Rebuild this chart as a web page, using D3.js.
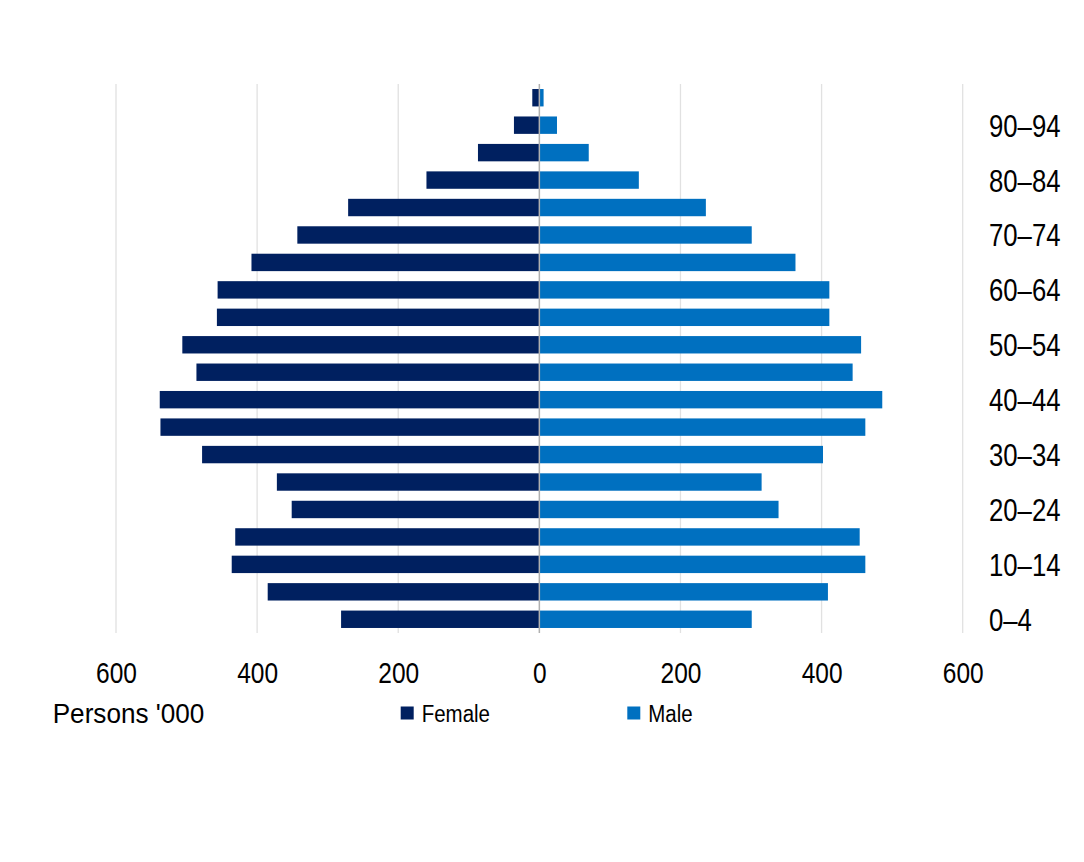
<!DOCTYPE html>
<html>
<head>
<meta charset="utf-8">
<script src="https://cdn.jsdelivr.net/npm/d3@7"></script>
<style>
  html, body { margin: 0; padding: 0; background: #fff; }
  svg { display: block; }
  text { font-family: "Liberation Sans", Arial, sans-serif; fill: #000; }
</style>
</head>
<body>
<svg id="chart" width="1084" height="862"></svg>
<script>
// Age groups, bottom (youngest) to top (oldest)
const categories = ["0–4","5–9","10–14","15–19","20–24","25–29","30–34","35–39","40–44","45–49",
                    "50–54","55–59","60–64","65–69","70–74","75–79","80–84","85–89","90–94","95+"];
// Persons '000
const female = [281, 385, 436, 431, 351, 372, 478, 537, 538, 486, 506, 457, 456, 408, 343, 271, 160, 87, 36, 10];
const male   = [301, 409, 462, 454, 339, 315, 402, 462, 486, 444, 456, 411, 411, 363, 301, 236, 141, 70, 25, 6];
const yTickLabels = ["0–4","10–14","20–24","30–34","40–44","50–54","60–64","70–74","80–84","90–94"];
const xTickValues = [-600, -400, -200, 0, 200, 400, 600];
const gridValues = [-600, -400, -200, 200, 400, 600];
const seriesNames = ["Female", "Male"];
const axisTitle = "Persons '000";

const colors = { Female: "#002060", Male: "#0070C0" };

const svg = d3.select("#chart");
const plotTop = 84, plotBottom = 633;

const x = d3.scaleLinear().domain([-600, 600]).range([116, 962.7]);
const y = d3.scaleBand()
  .domain(categories.slice().reverse())
  .range([plotTop, plotBottom])
  .paddingInner(0.366)
  .paddingOuter(0.183);

// gridlines
svg.append("g").selectAll("line").data(gridValues).join("line")
  .attr("x1", d => x(d)).attr("x2", d => x(d))
  .attr("y1", plotTop).attr("y2", plotBottom)
  .attr("stroke", "#e1e1e1").attr("stroke-width", 1.3);

// bars
const rows = categories.map((c, i) => ({ c, f: female[i], m: male[i] }));
svg.append("g").selectAll("rect").data(rows).join("rect")
  .attr("x", d => x(-d.f)).attr("width", d => x(0) - x(-d.f))
  .attr("y", d => y(d.c)).attr("height", y.bandwidth())
  .attr("fill", colors.Female);
svg.append("g").selectAll("rect").data(rows).join("rect")
  .attr("x", x(0)).attr("width", d => x(d.m) - x(0))
  .attr("y", d => y(d.c)).attr("height", y.bandwidth())
  .attr("fill", colors.Male);

// zero line
svg.append("line")
  .attr("x1", x(0)).attr("x2", x(0)).attr("y1", plotTop).attr("y2", plotBottom)
  .attr("stroke", "#b0b0b0").attr("stroke-width", 1.5);

// x axis labels
const xAxis = svg.append("g")
  .call(d3.axisBottom(x).tickValues(xTickValues).tickSize(0).tickFormat(d => Math.abs(d)));
xAxis.select(".domain").remove();
xAxis.selectAll("text")
  .attr("x", 0).attr("y", 0).attr("dy", null)
  .attr("transform", "translate(0,683) scale(0.845,1)")
  .attr("text-anchor", "middle")
  .style("font-size", "29px")
  .style("font-family", "'Liberation Sans', Arial, sans-serif")
  .attr("fill", "#000");

// y axis labels on the right
const yAxis = svg.append("g").attr("transform", "translate(989,0)")
  .call(d3.axisRight(y).tickValues(yTickLabels).tickSize(0).tickPadding(0));
yAxis.select(".domain").remove();
yAxis.selectAll("text")
  .attr("x", 0).attr("y", 0).attr("dy", null)
  .attr("transform", "translate(0,11.5) scale(0.83,1)")
  .attr("text-anchor", "start")
  .style("font-size", "31px")
  .style("font-family", "'Liberation Sans', Arial, sans-serif")
  .attr("fill", "#000");

// axis title
svg.append("text")
  .attr("transform", "translate(52.7,723) scale(0.95,1)")
  .style("font-size", "27.5px")
  .text(axisTitle);

// legend
const legendPos = { Female: 400.7, Male: 627.3 };
const leg = svg.append("g").selectAll("g").data(seriesNames).join("g")
  .attr("transform", d => `translate(${legendPos[d]},0)`);
leg.append("rect").attr("x", 0).attr("y", 706.5).attr("width", 13).attr("height", 13)
  .attr("fill", d => colors[d]);
leg.append("text")
  .attr("transform", "translate(21,721.5) scale(0.89,1)")
  .style("font-size", "23px")
  .text(d => d);
</script>
</body>
</html>
